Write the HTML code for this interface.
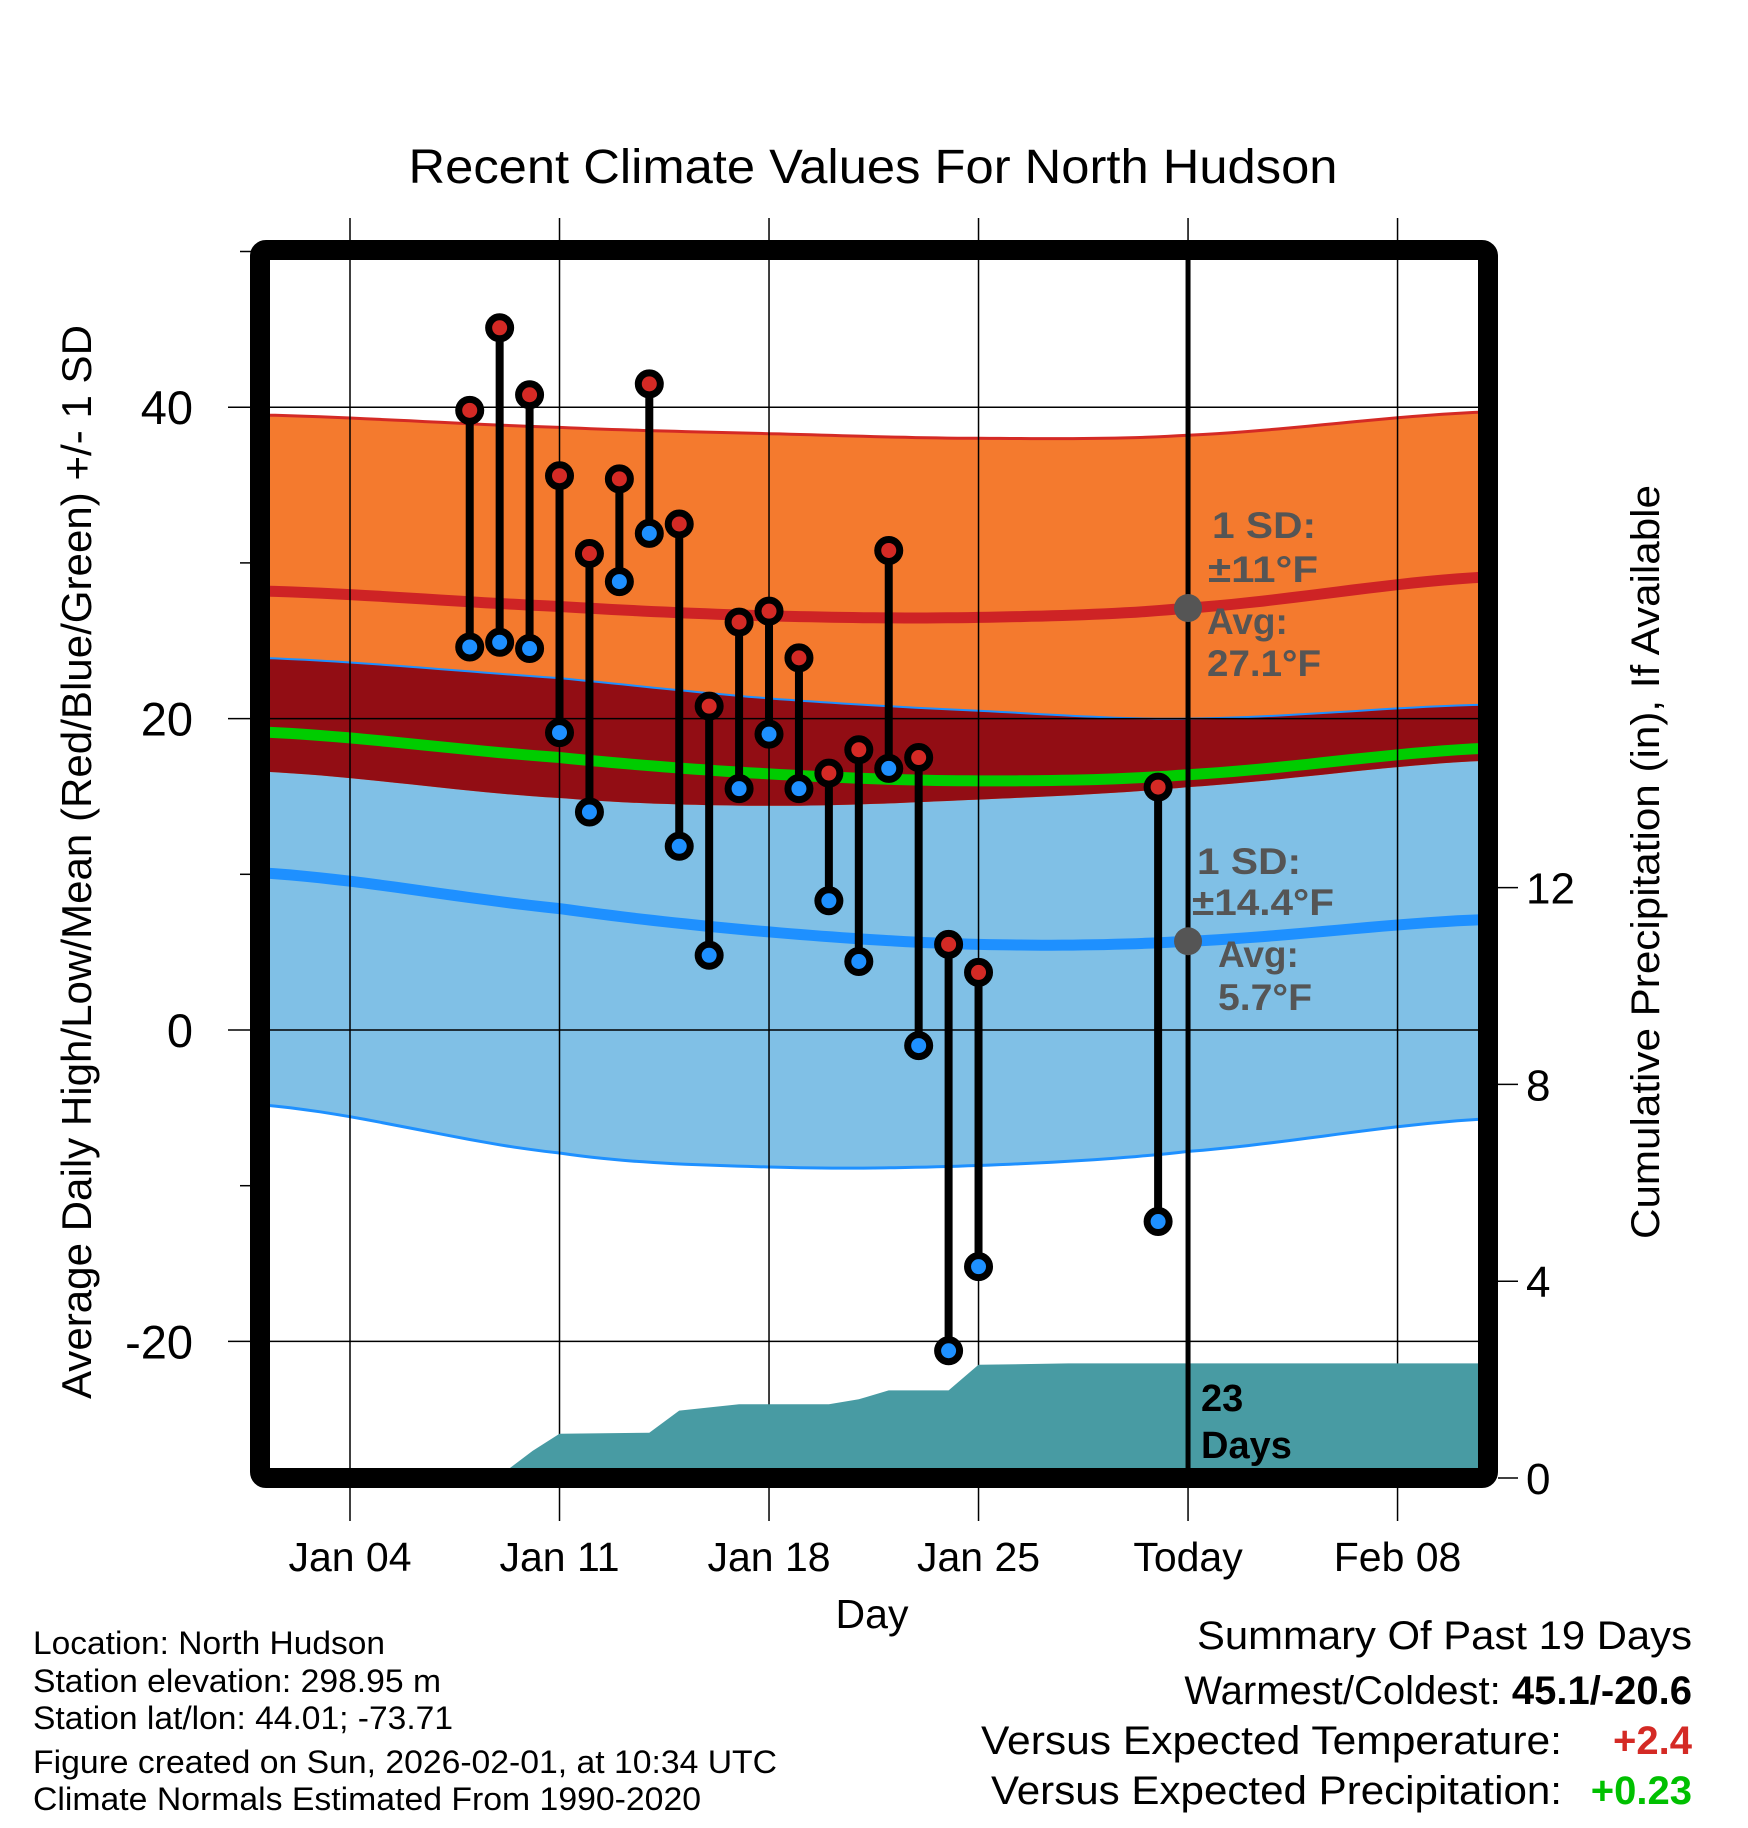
<!DOCTYPE html>
<html><head><meta charset="utf-8"><style>
html,body{margin:0;padding:0;background:#fff;}
svg{display:block;font-family:"Liberation Sans",sans-serif;}
</style></head><body>
<svg id="chart" width="1748" height="1828" viewBox="0 0 1748 1828" xmlns="http://www.w3.org/2000/svg">
<defs><clipPath id="plotclip"><rect x="270" y="259" width="1208" height="1209"/></clipPath></defs>
<g id="bands" clip-path="url(#plotclip)"></g>
<g id="grid"></g>
<g id="precip" clip-path="url(#plotclip)"></g>
<g id="obs"></g>
<g id="axes"></g>
</svg>
<script>
// ---- data ----
const normDays = [1, 11, 18, 25, 32, 42];
const hiTop  = [39.5, 38.7, 38.3, 38.0, 38.2, 39.7];
const hiMean = [28.2, 27.2, 26.6, 26.5, 27.1, 29.1];
const hiBot  = [16.6, 14.9, 14.4, 14.8, 15.6, 17.3];
const loTop  = [23.9, 22.6, 21.3, 20.5, 20.0, 20.9];
const loMean = [10.1, 7.8, 6.3, 5.5, 5.7, 7.1];
const loBot  = [-4.8, -7.9, -8.8, -8.7, -7.8, -5.7];
const obsDays = [8,9,10,11,12,13,14,15,16,17,18,19,20,21,22,23,24,25,31];
const highs = [39.8,45.1,40.8,35.6,30.6,35.4,41.5,32.5,20.8,26.2,26.9,23.9,16.5,18.0,30.8,17.5,5.5,3.7,15.6];
const lows  = [24.6,24.9,24.5,19.1,14.0,28.8,31.9,11.8,4.8,15.5,19.0,15.5,8.3,4.4,16.8,-1.0,-20.6,-15.2,-12.3];
const precipDays = [8.9,10.1,11,14,15,17,20,21,22,24,25,28,42];
const precipVals = [0,0.55,0.9,0.92,1.37,1.5,1.5,1.6,1.78,1.78,2.3,2.33,2.33];
const xTickDays = [4,11,18,25,32,39];
const xTickLabels = ["Jan 04","Jan 11","Jan 18","Jan 25","Today","Feb 08"];
const yTicks = [40,20,0,-20];
const yMinor = [50,30,10,-10];
const pTicks = [0,4,8,12];
const todayDay = 32;

// ---- scales ----
const X = d => 350 + (d - 4) * 29.93;
const Y = v => 1030 - v * 15.57;
const P = v => 1478 - v * 49.2;
const NS = "http://www.w3.org/2000/svg";
function mk(tag, attrs, parent){const e=document.createElementNS(NS,tag);for(const k in attrs)e.setAttribute(k,attrs[k]);parent.appendChild(e);return e;}
function smooth(xs, ys){
  const pts=[];
  for(let i=0;i<xs.length-1;i++){
    const p0=ys[Math.max(i-1,0)],p1=ys[i],p2=ys[i+1],p3=ys[Math.min(i+2,ys.length-1)];
    for(let s=0;s<20;s++){const t=s/20;
      const v=0.5*((2*p1)+(-p0+p2)*t+(2*p0-5*p1+4*p2-p3)*t*t+(-p0+3*p1-3*p2+p3)*t*t*t);
      pts.push([X(xs[i]+(xs[i+1]-xs[i])*t),Y(v)]);}
  }
  pts.push([X(xs[xs.length-1]),Y(ys[ys.length-1])]);
  return pts;
}
const ptsStr = p => p.map(q=>q[0].toFixed(1)+","+q[1].toFixed(1)).join(" ");
const bands=document.getElementById('bands');
function band(top,bot,color,name){
  const a=smooth(normDays,top),b=smooth(normDays,bot).reverse();
  const e=mk('polygon',{points:ptsStr(a.concat(b)),fill:color},bands);
  
  
}
function line(vals,color,w,name){
  const e=mk('polyline',{points:ptsStr(smooth(normDays,vals)),fill:'none',stroke:color,'stroke-width':w},bands);
  
  
}
band(loTop,loBot,'#80C0E6','low-sd-band');
band(hiTop,hiBot,'#F47A2E','high-sd-band');
band(loTop,hiBot,'#920D14','overlap-band');
const midMean = hiMean.map((v,i)=>(v+loMean[i])/2);
line(hiTop,'#D42A25',3,'high-plus-sd-line');
line(hiMean,'#CE2325',11,'high-mean-line');
line(loTop,'#1E90FF',2,'low-plus-sd-line');
line(midMean,'#00CC00',11,'mean-line');
line(loMean,'#1E90FF',11,'low-mean-line');
line(loBot,'#1E90FF',3,'low-minus-sd-line');

// grid
const grid=document.getElementById('grid');
xTickDays.forEach(d=>{
  const e=mk('line',{x1:X(d),x2:X(d),y1:218,y2:1521,stroke:'#000','stroke-width':1.5},grid);
  
  
});
yTicks.forEach(v=>{
  const e=mk('line',{x1:228,x2:1478,y1:Y(v),y2:Y(v),stroke:'#000','stroke-width':1.5},grid);
  
  
});
yMinor.forEach(v=>{
  const e=mk('line',{x1:240,x2:252,y1:Y(v),y2:Y(v),stroke:'#000','stroke-width':1.5},grid);
  
  
});

// precip
const pr=document.getElementById('precip');
let pp=[[X(precipDays[0]),1470]];
precipDays.forEach((d,i)=>pp.push([X(d),P(precipVals[i])]));
pp.push([X(precipDays[precipDays.length-1]),1470]);
const pe=mk('polygon',{points:ptsStr(pp),fill:'#489BA3'},pr);



// observations
const obs=document.getElementById('obs');
obsDays.forEach((d,i)=>{
  const x=X(d);
  const s=mk('line',{x1:x,x2:x,y1:Y(highs[i]),y2:Y(lows[i]),stroke:'#000','stroke-width':8},obs);
  
  
});
obsDays.forEach((d,i)=>{
  const x=X(d);
  [[highs[i],'#D42A25','high-point'],[lows[i],'#1E90FF','low-point']].forEach(([v,c,n])=>{
    const e=mk('circle',{cx:x,cy:Y(v),r:11,fill:c,stroke:'#000','stroke-width':7},obs);
    
    
  });
});

// axes & frame
const ax=document.getElementById('axes');
const tl=mk('line',{x1:X(todayDay),x2:X(todayDay),y1:259,y2:1468,stroke:'#000','stroke-width':5},ax);


[[hiMean[4],'today-high-avg-marker'],[loMean[4],'today-low-avg-marker']].forEach(([v,n])=>{
  const e=mk('circle',{cx:X(todayDay),cy:Y(v),r:14,fill:'#555'},ax);
  
  
});
const fr=mk('rect',{x:260,y:250,width:1228,height:1228,rx:6,fill:'none',stroke:'#000','stroke-width':20},ax);


pTicks.forEach(v=>{
  const t=mk('line',{x1:1498,x2:1518,y1:P(v),y2:P(v),stroke:'#000','stroke-width':1.5},ax);
  
  
  const l=mk('text',{x:1526,y:P(v)+16,'font-size':44},ax);l.textContent=String(v);
  
  
});
yTicks.forEach(v=>{
  const l=mk('text',{x:193,y:Y(v)+17,'font-size':47,'text-anchor':'end'},ax);l.textContent=String(v);
  
  
});
xTickDays.forEach((d,i)=>{
  const l=mk('text',{x:X(d),y:1571,'font-size':41,'text-anchor':'middle'},ax);l.textContent=xTickLabels[i];
  
  
});
</script>
<svg style="position:absolute;left:0;top:0" width="1748" height="1828" viewBox="0 0 1748 1828" xmlns="http://www.w3.org/2000/svg" font-family="Liberation Sans, sans-serif">
<text x="873" y="183" font-size="48" text-anchor="middle" textLength="929" lengthAdjust="spacingAndGlyphs">Recent Climate Values For North Hudson</text>
<text transform="translate(91,862) rotate(-90)" font-size="42" text-anchor="middle" textLength="1074" lengthAdjust="spacingAndGlyphs">Average Daily High/Low/Mean (Red/Blue/Green) +/- 1 SD</text>
<text transform="translate(1659,862) rotate(-90)" font-size="40" text-anchor="middle" textLength="754" lengthAdjust="spacingAndGlyphs">Cumulative Precipitation (in), If Available</text>
<text x="872" y="1628" font-size="41" text-anchor="middle">Day</text>
<g font-size="37" font-weight="bold" fill="#555">
<text x="1212" y="538" textLength="104" lengthAdjust="spacingAndGlyphs">1 SD:</text><text x="1208" y="582" textLength="110" lengthAdjust="spacingAndGlyphs">±11°F</text>
<text x="1207" y="634">Avg:</text><text x="1207" y="676" textLength="114" lengthAdjust="spacingAndGlyphs">27.1°F</text></g>
<g font-size="37" font-weight="bold" fill="#555">
<text x="1197" y="874" textLength="104" lengthAdjust="spacingAndGlyphs">1 SD:</text><text x="1192" y="915" textLength="142" lengthAdjust="spacingAndGlyphs">±14.4°F</text>
<text x="1218" y="967">Avg:</text><text x="1218" y="1010" textLength="94" lengthAdjust="spacingAndGlyphs">5.7°F</text></g>
<g font-size="38" font-weight="bold" fill="#000">
<text x="1201" y="1411">23</text><text x="1201" y="1458">Days</text></g>
<g font-size="32">
<text x="33" y="1654" textLength="352" lengthAdjust="spacingAndGlyphs">Location: North Hudson</text>
<text x="33" y="1692" textLength="408" lengthAdjust="spacingAndGlyphs">Station elevation: 298.95 m</text>
<text x="33" y="1729" textLength="420" lengthAdjust="spacingAndGlyphs">Station lat/lon: 44.01; -73.71</text>
<text x="33" y="1773" textLength="744" lengthAdjust="spacingAndGlyphs">Figure created on Sun, 2026-02-01, at 10:34 UTC</text>
<text x="33" y="1810" textLength="668" lengthAdjust="spacingAndGlyphs">Climate Normals Estimated From 1990-2020</text></g>
<g font-size="40">
<text x="1692" y="1649" text-anchor="end" textLength="495" lengthAdjust="spacingAndGlyphs">Summary Of Past 19 Days</text>
<text x="1692" y="1704" text-anchor="end">Warmest/Coldest: <tspan font-weight="bold">45.1/-20.6</tspan></text>
<text x="1562" y="1754" text-anchor="end" textLength="581" lengthAdjust="spacingAndGlyphs">Versus Expected Temperature:</text>
<text x="1692" y="1754" text-anchor="end" font-weight="bold" fill="#D42A25">+2.4</text>
<text x="1562" y="1804" text-anchor="end" textLength="571" lengthAdjust="spacingAndGlyphs">Versus Expected Precipitation:</text>
<text x="1692" y="1804" text-anchor="end" font-weight="bold" fill="#00C000">+0.23</text></g>
</svg>
</body></html>
